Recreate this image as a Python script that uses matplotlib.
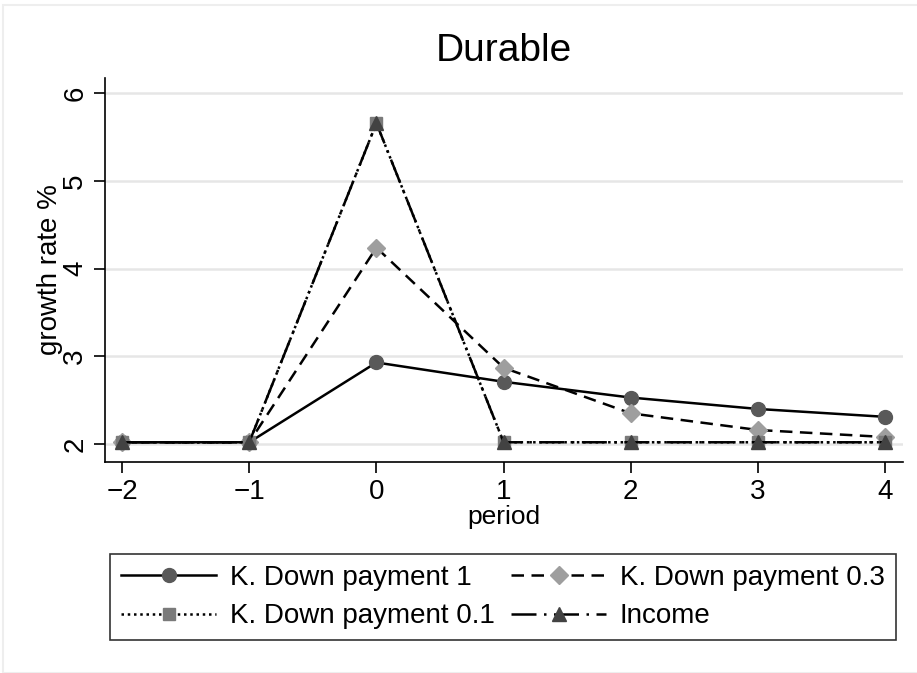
import matplotlib.pyplot as plt
from matplotlib.patches import Rectangle

plt.rcParams['font.family'] = ['Liberation Sans', 'DejaVu Sans']
plt.rcParams['axes.unicode_minus'] = True

# responses by period
period = [-2, -1, 0, 1, 2, 3, 4]
dp_1 = [2.02, 2.02, 2.93, 2.71, 2.53, 2.40, 2.31]
dp_03 = [2.02, 2.02, 4.24, 2.87, 2.35, 2.16, 2.08]
dp_01 = [2.02, 2.02, 5.66, 2.02, 2.02, 2.02, 2.02]
income = [2.02, 2.02, 5.66, 2.02, 2.02, 2.02, 2.02]

series_labels = ['K. Down payment 1', 'K. Down payment 0.3',
                 'K. Down payment 0.1', 'Income']
yticks = [2, 3, 4, 5, 6]
xticks = [-2, -1, 0, 1, 2, 3, 4]

fig = plt.figure(figsize=(9.17, 6.73), dpi=100)
ax = fig.add_axes([105 / 917, 1 - 462 / 673, 798 / 917, 384 / 673])

lw = 1.8
ms = 10
l1, = ax.plot(period, dp_1, color='black', lw=lw, ls='-', marker='o', ms=ms,
              mfc='#595959', mec='#595959', label=series_labels[0], zorder=3)
l2, = ax.plot(period, dp_03, color='black', lw=lw, ls=(0, (5, 3)), marker='D', ms=ms - 1,
              mfc='#9e9e9e', mec='#9e9e9e', label=series_labels[1], zorder=4)
l3, = ax.plot(period, dp_01, color='black', lw=lw, ls=(0, (1, 1.5)), marker='s', ms=ms - 1,
              mfc='#7a7a7a', mec='#7a7a7a', label=series_labels[2], zorder=5)
l4, = ax.plot(period, income, color='black', lw=lw, ls=(0, (10, 3, 1, 3)), marker='^', ms=ms,
              mfc='#424242', mec='#424242', label=series_labels[3], zorder=6)

ax.set_xlim(-2.134, 4.14)
ax.set_ylim(1.795, 6.175)
ax.set_xticks(xticks)
ax.set_yticks(yticks)
ax.set_xticklabels([f'\u2212{-v}' if v < 0 else str(v) for v in xticks])
ax.set_yticklabels([str(v) for v in yticks], rotation=90, va='center')
ax.tick_params(axis='both', direction='out', length=8, width=1.2,
               labelsize=20, colors='black', pad=4)
ax.grid(axis='y', color='#e6e6e6', lw=1.8)
ax.set_axisbelow(True)
for side in ['top', 'right']:
    ax.spines[side].set_visible(False)
for side in ['left', 'bottom']:
    ax.spines[side].set_linewidth(1.2)

ax.set_title('Durable', fontsize=28, pad=12)
ax.set_xlabel('period', fontsize=19, labelpad=0)
ax.set_ylabel('growth rate %', fontsize=20)
ax.yaxis.set_label_coords(-0.053, 0.5)

# two-column legend, filled column-wise
leg = fig.legend([l1, l3, l2, l4],
                 [series_labels[0], series_labels[2], series_labels[1], series_labels[3]],
                 loc='center', bbox_to_anchor=(503 / 917, 1 - 597 / 673), ncol=2,
                 fontsize=20, frameon=True, fancybox=False, edgecolor='black',
                 handlelength=3.4, columnspacing=0.6, handletextpad=0.5,
                 borderpad=0.4, labelspacing=0.45, borderaxespad=0)
leg.get_frame().set_linewidth(1.2)

# light outer border
fig.patches.append(Rectangle((3 / 917, 0), 1, 1 - 5 / 673, transform=fig.transFigure,
                             fill=False, edgecolor='#eeeeee', lw=1.5))

fig.savefig('out.png', dpi=100)
